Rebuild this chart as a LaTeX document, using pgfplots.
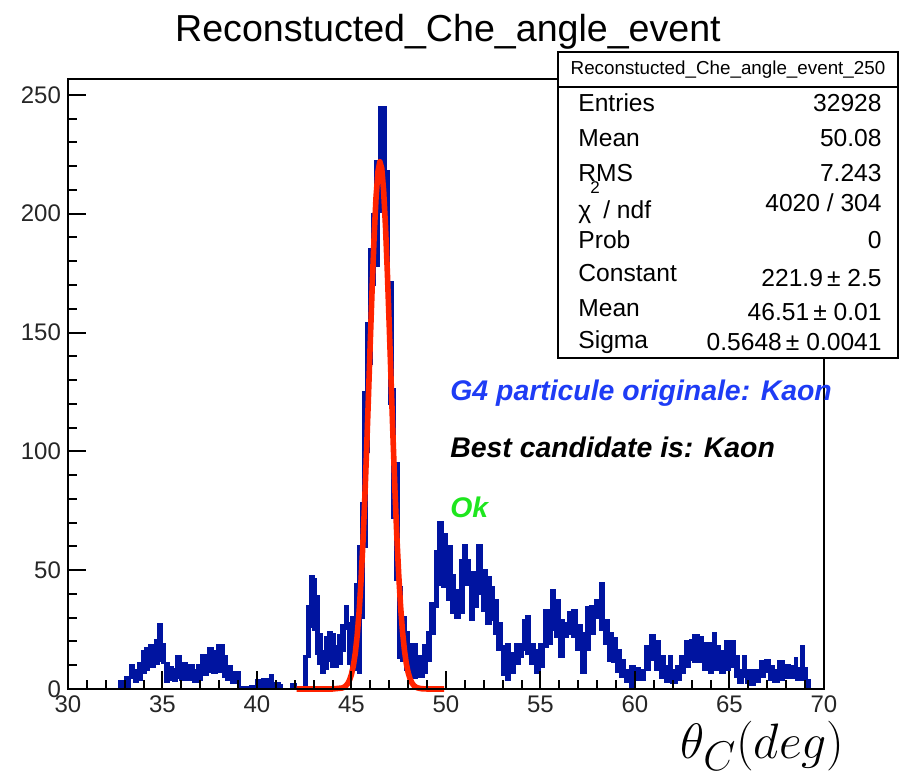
\documentclass[border=0pt]{standalone}
\usepackage{fontspec}
\setmainfont{Liberation Sans}
\usepackage{pgfplots}
\usepackage{pgfplotstable}
\pgfplotsset{compat=1.18}
\definecolor{hblue}{RGB}{0,20,160}
\definecolor{fitred}{RGB}{255,35,0}
\definecolor{txtblue}{RGB}{30,60,245}
\definecolor{okgreen}{RGB}{30,230,30}

\pgfplotstableread{
xx up lo
32.60 0 0
32.72 3.4 0
32.89 2.0 0
33.05 5 0.5
33.28 10 4.5
33.49 8 3
33.70 11 4
33.90 16 7
34.10 17 8
34.30 18.5 9.4
34.60 20.6 10.8
34.78 27.4 12
34.96 19 11
35.13 10.8 3
35.31 9 3.8
35.55 8.5 3.5
35.75 14 4.5
35.96 10.8 4
36.28 10 3.8
36.63 8 3
36.85 10 4
37.07 14.3 5.9
37.42 17 7.3
37.65 16 7
37.87 18.5 7.3
38.22 13.6 5.2
38.39 9.4 3.8
38.66 6.9 2.7
39.07 0.7 0
39.63 1.3 0
39.98 3.8 0
40.25 4 0.7
40.69 6 0.7
40.86 2.4 0
41.22 1.4 0
41.31 0 0
41.83 2 0
42.06 0 0
42.49 13.6 1
42.63 35 13.6
42.80 47.6 26
42.98 46 25
43.12 39 15
43.25 23 10.8
43.42 16 6.6
43.60 22 8.7
43.77 24 12
43.95 23 9.4
44.13 17.8 9.4
44.30 22.7 10.8
44.48 27 16
44.66 35 25.5
44.83 27.6 10.8
45.01 30 8
45.20 44 8
45.36 60 7
45.49 78 30
45.63 125 60
45.80 154 100
45.94 185 137
46.10 200 170
46.24 222 178
46.47 245 201
46.83 218 170
47.00 171 120
47.18 126 72
47.30 95 46
47.48 43 13
47.65 30 12
47.85 24 8
48.01 19 8
48.18 19 4.5
48.45 13.6 5
48.62 13.6 5.2
48.80 18.5 6.6
48.98 24 12
49.19 36 23.4
49.42 58 34.6
49.59 70 44
49.82 65 43
50.04 60 37.5
50.30 48 32
50.48 41.7 30
50.74 54 32
50.92 60.6 45
51.09 54 44
51.27 49 29
51.45 49 34.6
51.66 60.6 40
51.89 50 33
52.15 47 27.6
52.36 43 29
52.54 37.5 23.4
52.72 27.6 16.4
52.95 17.8 5.9
53.17 19 3.8
53.39 15 6.6
53.65 19 10.8
53.88 19 13.6
54.09 29 16.4
54.27 30.5 15
54.44 19 10.8
54.71 16.4 6.6
54.94 19 9.4
55.19 33 17.8
55.41 33 19
55.59 41.7 24.8
55.77 37.5 22
56.00 29 13.6
56.21 27.6 22
56.47 32.5 23.4
56.70 33 22
56.91 27 16.4
57.18 23.4 6.6
57.41 34.6 16.4
57.62 35 23.4
57.88 37.5 30
58.15 44.5 24.8
58.36 29 19
58.59 23.4 12
58.82 21.3 11.5
59.03 16.4 7.3
59.24 12.2 5.2
59.47 8 3
59.73 9.4 1
60.00 8.7 3.8
60.26 8 3.8
60.53 17.8 8
60.79 22.7 12.2
61.06 20 8
61.32 13.6 4.5
61.59 9.4 3
61.82 13.9 4
61.94 8 2.4
62.20 9.4 4
62.41 13.6 6.6
62.65 20 9.4
62.91 20.6 12.2
63.09 22.7 11.5
63.35 22 11.5
63.61 19.2 8
63.93 19.2 6.6
64.14 23.4 8
64.29 17.8 8
64.50 15.7 6.6
64.76 20 8
65.03 20 9.4
65.29 13.6 5.2
65.47 8 2.4
65.73 13.6 5.2
65.87 8 2.4
66.08 8 1.7
66.35 8 3
66.61 11.5 5.2
66.88 12.2 7.3
67.11 9.4 3.8
67.32 8 3
67.59 11.5 3.8
67.85 10 4.5
68.20 9.4 4.5
68.46 13 5.2
68.55 8.7 3.8
68.82 18 5.2
68.91 8.7 3.8
69.08 3.8 0.3
69.26 0 0
69.35 0 0
}\histdata

\begin{document}
\begin{tikzpicture}
\path[use as bounding box] (-34pt,-45pt) rectangle (417pt,344.5pt);
\begin{axis}[
  at={(0pt,0pt)}, anchor=south west,
  scale only axis, width=378pt, height=305pt,
  xmin=30, xmax=70, ymin=0, ymax=256.7,
  xtick={30,35,...,70}, ytick={0,50,...,250},
  minor x tick num=4, minor y tick num=4,
  tick align=inside, tick pos=left,
  major tick length=9pt, minor tick length=4.5pt,
  every tick/.style={black, line width=1pt},
  axis line style={line width=1pt},
  ticklabel style={font=\fontsize{12}{14}\selectfont, text=black!85},
  /pgf/number format/assume math mode=true,
  axis on top,
  clip=false,
]
\addplot[const plot, fill=hblue, draw=hblue, line width=1.2pt] table[x=xx,y=up]{\histdata} \closedcycle;
\addplot[const plot, fill=white, draw=none] table[x=xx,y=lo]{\histdata} \closedcycle;
\addplot[const plot, draw=hblue, line width=1.2pt] table[x=xx,y=lo]{\histdata};
\addplot[fitred, line width=2.8pt, line join=round] coordinates {
(42.1,0) (44.0,0.01) (44.5,0.40) (44.6,0.73) (44.7,1.31) (44.8,2.27) (44.9,3.82)
(45.0,6.22) (45.1,9.84) (45.2,15.06) (45.3,22.37) (45.4,32.18) (45.5,44.85)
(45.6,60.6) (45.7,79.35) (45.8,100.7) (45.9,123.8) (46.0,147.6) (46.1,170.5)
(46.2,190.9) (46.3,207.1) (46.4,217.7) (46.5,221.9) (46.6,219.1) (46.7,209.7)
(46.8,194.5) (46.9,174.8) (47.0,152.3) (47.1,128.6) (47.2,105.2) (47.3,83.4)
(47.4,64.1) (47.5,47.8) (47.6,34.5) (47.7,24.1) (47.8,16.4) (47.9,10.7)
(48.0,6.84) (48.1,4.22) (48.2,2.52) (48.3,1.46) (48.4,0.82) (48.5,0.45)
(48.7,0.12) (49.0,0.0) (49.9,0)
};
\end{axis}
% title
\node[anchor=base, font=\fontsize{18.8}{22}\selectfont] at (190pt,323.5pt) {Reconstucted\_Che\_angle\_event};
% stats box
\draw[line width=0.9pt, fill=white] (245pt,165.5pt) rectangle (415pt,318.5pt);
\draw[line width=0.9pt] (245pt,301pt) -- (415pt,301pt);
\node[anchor=base, font=\fontsize{9.4}{11}\selectfont] at (330pt,307pt) {Reconstucted\_Che\_angle\_event\_250};
\begin{scope}[every node/.style={font=\fontsize{12.3}{14}\selectfont, inner sep=0pt}]
\node[anchor=base west] at (255pt,288.6pt) {Entries};
\node[anchor=base east] at (407pt,288.6pt) {32928};
\node[anchor=base west] at (255pt,271.1pt) {Mean};
\node[anchor=base east] at (407pt,271.1pt) {50.08};
\node[anchor=base west] at (255pt,253.6pt) {RMS};
\node[anchor=base east] at (407pt,253.6pt) {7.243};
\node[anchor=base west] at (255pt,235.1pt) {χ\hspace{6pt}/ ndf};
\node[anchor=base, font=\fontsize{8.5}{10}\selectfont] at (263.5pt,247.5pt) {2};
\node[anchor=base east] at (407pt,238.6pt) {4020 / 304};
\node[anchor=base west] at (255pt,220.1pt) {Prob};
\node[anchor=base east] at (407pt,220.1pt) {0};
\node[anchor=base west] at (255pt,203.6pt) {Constant};
\node[anchor=base east] at (407pt,201.1pt) {221.9\,±\ 2.5};
\node[anchor=base west] at (255pt,186.1pt) {Mean};
\node[anchor=base east] at (407pt,184.1pt) {46.51\,±\ 0.01};
\node[anchor=base west] at (255pt,170.1pt) {Sigma};
\node[anchor=base east] at (407pt,169.1pt) {0.5648\,±\ 0.0041};
\end{scope}
% annotations
\begin{scope}[every node/.style={font=\fontsize{14.2}{17}\selectfont\bfseries\itshape, inner sep=0pt, anchor=base west}]
\node[text=txtblue] at (191pt,144.4pt) {G4 particule originale: Kaon};
\node[text=black] at (191pt,115.9pt) {Best candidate is: Kaon};
\node[text=okgreen] at (191pt,85.9pt) {Ok};
\end{scope}
% x label
\node[anchor=base east, inner sep=0pt, font=\fontsize{28}{32}\selectfont] at (388.5pt,-35pt) {$\theta_C(deg)$};
\end{tikzpicture}
\end{document}
